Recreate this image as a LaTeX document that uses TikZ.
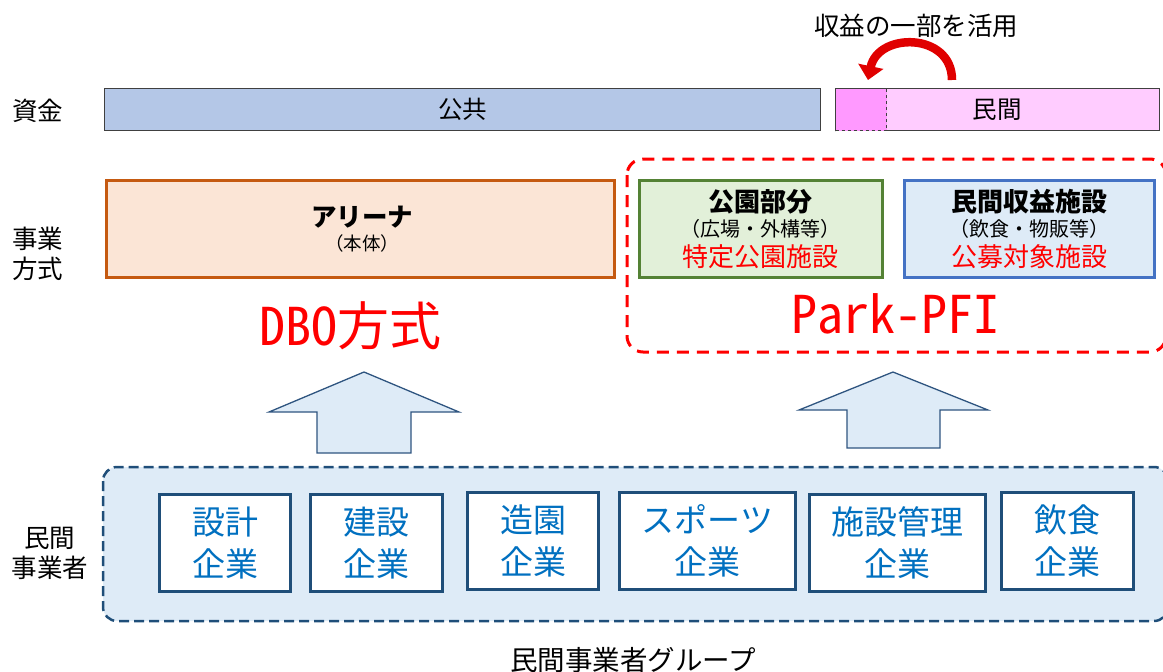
\documentclass[tikz,border=0pt]{standalone}
\usepackage{fontspec}
\setmainfont{Noto Sans CJK JP}
\newfontfamily\hwfont[RawFeature=+hwid]{Noto Sans CJK JP}
\usetikzlibrary{arrows.meta}
\definecolor{pubfill}{HTML}{B4C7E7}
\definecolor{privfill}{HTML}{FFCCFF}
\definecolor{privpart}{HTML}{FF99FF}
\definecolor{barline}{HTML}{404040}
\definecolor{arenafill}{HTML}{FBE5D6}
\definecolor{arenaline}{HTML}{C55A11}
\definecolor{parkfill}{HTML}{E2F0D9}
\definecolor{parkline}{HTML}{548235}
\definecolor{revfill}{HTML}{DEEBF7}
\definecolor{revline}{HTML}{4472C4}
\definecolor{grpline}{HTML}{1F4E79}
\definecolor{comptext}{HTML}{0070C0}
\definecolor{arrline}{HTML}{2F5580}
\definecolor{curvred}{HTML}{E00000}
\newcommand\fsz[2]{\fontsize{#1}{#2}\selectfont}
\tikzset{
  lbl/.style={inner sep=0pt, align=center, font=\fsz{25.5pt}{30pt}},
  bar/.style={draw=barline, line width=1pt, anchor=north west, inner sep=0pt},
  facbox/.style={line width=3pt, anchor=north west, inner sep=0pt},
  comp/.style={draw=grpline, fill=white, line width=3pt, anchor=north west, inner sep=0pt,
    text=comptext, align=center, font=\fsz{33pt}{42pt}},
  bigred/.style={inner sep=0pt, text=red},
  uparrow/.style={draw=arrline, fill=revfill, line width=1.3pt, line join=miter},
}
\begin{document}
\begin{tikzpicture}[x=1pt,y=-1pt]
\useasboundingbox (0,0) rectangle (1163,672);

% row labels
\node[lbl] (shikin) at (38,111) {資金};
\node[lbl] (hoshiki) at (38,254) {事業\\方式};
\node[lbl] (minlbl) at (50,553) {民間\\事業者};

% funding bars
\node[bar, fill=pubfill, minimum width=716pt, minimum height=42pt] (pub) at (104,88) {};
\node[font=\fsz{24.5pt}{28pt}, inner sep=0pt] (pubtxt) at (pub.center) {公共};
\node[bar, fill=privfill, minimum width=324pt, minimum height=42pt] (priv) at (835,88) {};
\node[bar, fill=privpart, dashed, minimum width=51pt, minimum height=42pt] (part) at (835,88) {};
\node[font=\fsz{24.5pt}{28pt}, inner sep=0pt] (privtxt) at (997,110) {民間};

% curved arrow
\node[lbl] (katsuyo) at (916,26) {収益の一部を活用};
\coordinate (ctail) at (952,80);
\coordinate (chead) at (868,80);
\draw[curvred, line width=8.5pt, -{Triangle[width=25pt,length=14pt]}]
  (ctail) .. controls (952,32) and (878,32) .. (chead);

% arena
\node[facbox, draw=arenaline, fill=arenafill, minimum width=508pt, minimum height=97pt] (arena) at (105,179) {};
\node[inner sep=0pt, font=\fsz{25.5pt}{28pt}\bfseries] (arenat) at (362,217) {アリーナ};
\node[inner sep=0pt, font=\fsz{18.5pt}{20pt}] (arenas) at (362,243) {（本体）};
\node[bigred] (dbo) at (350,326) {\hwfont\fsz{52pt}{56pt}DBO方式};

% Park-PFI
\draw[red, dashed, line width=3pt, dash pattern=on 12pt off 8pt, rounded corners=16pt]
  (627,159) rectangle (1166,352);
\node[facbox, draw=parkline, fill=parkfill, minimum width=243pt, minimum height=97pt] (park) at (638,179) {};
\node[inner sep=0pt, font=\fsz{26pt}{28pt}\bfseries] (parkt) at (760,202) {公園部分};
\node[inner sep=0pt, font=\fsz{20pt}{22pt}] (parks) at (760,229) {（広場・外構等）};
\node[inner sep=0pt, text=red, font=\fsz{26pt}{28pt}] (parkr) at (760,257) {特定公園施設};
\node[facbox, draw=revline, fill=revfill, minimum width=250pt, minimum height=97pt] (rev) at (903,179) {};
\node[inner sep=0pt, font=\fsz{26pt}{28pt}\bfseries] (revt) at (1029,202) {民間収益施設};
\node[inner sep=0pt, font=\fsz{20pt}{22pt}] (revs) at (1029,229) {（飲食・物販等）};
\node[inner sep=0pt, text=red, font=\fsz{26pt}{28pt}] (revr) at (1029,257) {公募対象施設};
\node[bigred] (pfi) at (895,314) {\hwfont\fsz{52pt}{56pt}Park-PFI};

% block arrows
\draw[uparrow] (317,453) -- (317,412) -- (269,412) -- (364,372) -- (459,412) -- (411,412) -- (411,453) -- cycle;
\draw[uparrow] (847,448) -- (847,410) -- (799,410) -- (893,372) -- (988,410) -- (940,410) -- (940,448) -- cycle;

% private group
\draw[draw=grpline, fill=revfill, dashed, dash pattern=on 10pt off 5pt, line width=2.5pt, rounded corners=14pt]
  (103,467) rectangle (1168,621);
\node[comp, minimum width=131pt, minimum height=97pt] (c1) at (158,493) {設計\\企業};
\node[comp, minimum width=132pt, minimum height=97pt] (c2) at (309,493) {建設\\企業};
\node[comp, minimum width=131pt, minimum height=97pt] (c3) at (466,491) {造園\\企業};
\node[comp, minimum width=176pt, minimum height=97pt] (c4) at (618,491) {スポーツ\\企業};
\node[comp, minimum width=176pt, minimum height=97pt] (c5) at (808,493) {施設管理\\企業};
\node[comp, minimum width=132pt, minimum height=97pt] (c6) at (1000,491) {飲食\\企業};
\node[inner sep=0pt, font=\fsz{27.5pt}{30pt}] (grp) at (633,660) {民間事業者グループ};
\end{tikzpicture}
\end{document}
